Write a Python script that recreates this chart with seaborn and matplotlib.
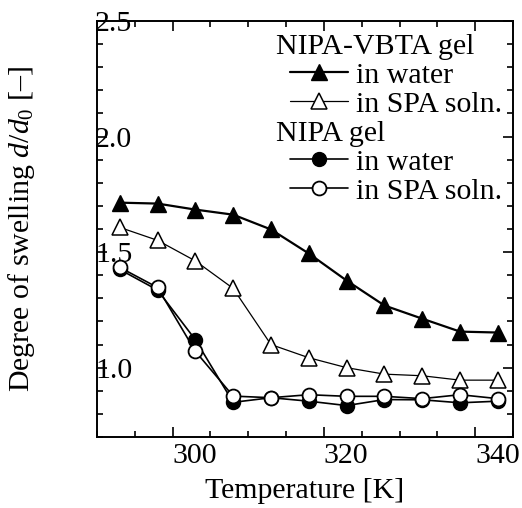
import matplotlib
matplotlib.use("Agg")
import matplotlib.pyplot as plt
from matplotlib.lines import Line2D
from matplotlib.ticker import MultipleLocator
import seaborn as sns

# ---- data ----
temperature = [293, 298, 303, 308, 313, 318, 323, 328, 333, 338, 343]
vbta_water = [1.714, 1.710, 1.684, 1.662, 1.598, 1.494, 1.377, 1.269, 1.212, 1.156, 1.152]
vbta_spa = [1.607, 1.551, 1.462, 1.343, 1.100, 1.043, 1.000, 0.972, 0.965, 0.946, 0.946]
nipa_water = [1.425, 1.336, 1.121, 0.850, 0.870, 0.855, 0.836, 0.862, 0.861, 0.848, 0.855]
nipa_spa = [1.434, 1.347, 1.071, 0.877, 0.870, 0.883, 0.876, 0.876, 0.866, 0.883, 0.866]
x_ticks = [300, 320, 340]
y_ticks = [1.0, 1.5, 2.0, 2.5]
legend_labels = ["NIPA-VBTA gel", "in water", "in SPA soln.", "NIPA gel", "in water", "in SPA soln."]

sns.set_style("ticks")
plt.rcParams["font.family"] = ["Liberation Serif", "DejaVu Serif"]
plt.rcParams["mathtext.fontset"] = "custom"
plt.rcParams["mathtext.rm"] = "Liberation Serif"
plt.rcParams["mathtext.it"] = "Liberation Serif:italic"
for key in ("text.color", "axes.labelcolor", "xtick.color", "ytick.color", "axes.edgecolor"):
    plt.rcParams[key] = "black"
FS = 21.5

fig = plt.figure(figsize=(5.22, 5.08), dpi=100)
ax = fig.add_axes([97 / 522, 1 - 437 / 508, 416 / 522, 416 / 508])

ms_tri = 11
ms_cir = 10
sns.lineplot(x=temperature, y=vbta_water, ax=ax, color="k", linewidth=1.6,
             marker="^", markersize=ms_tri, markerfacecolor="k", markeredgecolor="k",
             markeredgewidth=1.0)
sns.lineplot(x=temperature, y=vbta_spa, ax=ax, color="k", linewidth=0.9,
             marker="^", markersize=ms_tri, markerfacecolor="white", markeredgecolor="k",
             markeredgewidth=1.1)
sns.lineplot(x=temperature, y=nipa_water, ax=ax, color="k", linewidth=1.2,
             marker="o", markersize=ms_cir, markerfacecolor="k", markeredgecolor="k",
             markeredgewidth=1.1)
sns.lineplot(x=temperature, y=nipa_spa, ax=ax, color="k", linewidth=1.2,
             marker="o", markersize=ms_cir, markerfacecolor="white", markeredgecolor="k",
             markeredgewidth=1.3)

ax.set_xlim(290, 345)
ax.set_ylim(0.7, 2.5)
ax.set_xticks(x_ticks)
ax.set_yticks(y_ticks)
ax.xaxis.set_minor_locator(MultipleLocator(5))
ax.yaxis.set_minor_locator(MultipleLocator(0.1))
ax.set_xticklabels([str(v) for v in x_ticks])
ax.set_yticklabels([f"{v:.1f}" for v in y_ticks])

for sp in ax.spines.values():
    sp.set_linewidth(1.4)
    sp.set_color("k")
    sp.set_visible(True)

ax.tick_params(which="both", direction="in", top=True, right=True, colors="k",
               labelsize=FS, width=1.2)
ax.tick_params(which="major", length=7.5)
ax.tick_params(which="minor", length=4)
ax.tick_params(axis="x", which="major", pad=4)
ax.tick_params(axis="y", which="major", pad=1.5)
for lab in ax.get_xticklabels():
    lab.set_horizontalalignment("left")
for lab in ax.get_yticklabels():
    lab.set_horizontalalignment("left")

ax.set_xlabel("Temperature [K]", fontsize=FS, labelpad=7)
ax.set_ylabel(r"Degree of swelling $d/d_0$ [–]", fontsize=FS)
ax.yaxis.label.set_verticalalignment("center")
ax.yaxis.set_label_coords((22 - 97) / 416, 0.5)

# ---- legend ----
blank = Line2D([], [], linestyle="none", marker=None)
h1 = Line2D([], [], color="k", linewidth=1.6, marker="^", markersize=ms_tri,
            markerfacecolor="k", markeredgecolor="k")
h2 = Line2D([], [], color="k", linewidth=0.9, marker="^", markersize=ms_tri,
            markerfacecolor="white", markeredgecolor="k", markeredgewidth=1.1)
h3 = Line2D([], [], color="k", linewidth=1.2, marker="o", markersize=ms_cir,
            markerfacecolor="k", markeredgecolor="k")
h4 = Line2D([], [], color="k", linewidth=1.2, marker="o", markersize=ms_cir,
            markerfacecolor="white", markeredgecolor="k", markeredgewidth=1.3)
handles = [blank, h1, h2, blank, h3, h4]
leg = ax.legend(handles, legend_labels, loc="upper left",
                bbox_to_anchor=((290 - 97) / 416, (437 - 33) / 416),
                frameon=False, fontsize=FS, borderpad=0, borderaxespad=0,
                handlelength=1.95, handletextpad=0.25, labelspacing=0.07,
                numpoints=1)
for i in (0, 3):
    leg.get_texts()[i].set_x(-(357 - 277))

fig.savefig("out.png", dpi=100)
